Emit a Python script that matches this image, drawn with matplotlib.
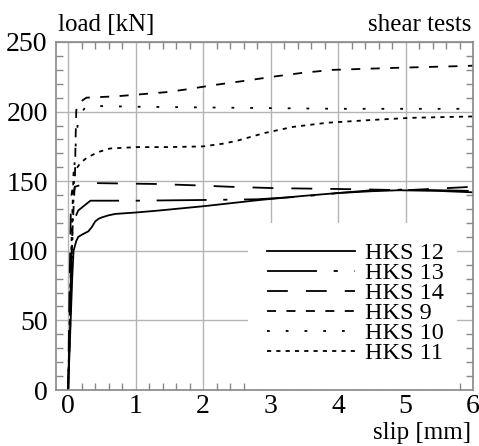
import matplotlib
matplotlib.use("Agg")
import matplotlib.pyplot as plt
from matplotlib.ticker import MultipleLocator
from matplotlib.patches import Rectangle

plt.rcParams['font.family'] = ['Liberation Serif', 'DejaVu Serif']
plt.rcParams['lines.scale_dashes'] = False

# ---- data (slip in mm, load in kN) ----
hks12_x = [0.0, 0.03, 0.06, 0.08, 0.12, 0.15, 0.22, 0.3, 0.35, 0.4, 0.45, 0.5, 0.6, 0.7, 1.0, 1.36, 2.0, 2.84, 3.5, 4.0, 4.5, 4.9, 5.5, 6.0]
hks12_y = [0, 40, 80, 100, 107, 110, 112, 114, 117, 121, 123, 124, 125.5, 126.5, 127.5, 129, 132, 136.5, 139.5, 141.5, 142.8, 143.5, 143, 142]

hks13_x = [0.0, 0.03, 0.05, 0.07, 0.15, 0.33, 1.0, 2.0, 2.8, 3.3, 3.7, 4.0, 4.5, 5.0, 5.5, 6.0]
hks13_y = [0, 60, 100, 120, 129, 136, 136, 136.5, 137, 138.5, 140, 141.5, 143.5, 144, 143.5, 143]

hks14_x = [0.0, 0.02, 0.04, 0.05, 0.06, 0.08, 0.1, 0.2, 0.3, 1.3, 1.9, 2.4, 3.07, 4.0, 4.5, 5.0, 5.6, 6.0]
hks14_y = [0, 70, 130, 140, 143.5, 141, 146, 147.5, 148.7, 148, 147, 146, 145, 144.4, 144, 143.5, 145, 146]

hks9_x = [0.0, 0.04, 0.06, 0.1, 0.11, 0.12, 0.13, 0.18, 0.27, 0.72, 1.46, 1.76, 2.15, 2.6, 3.1, 3.5, 3.93, 4.9, 5.9, 6.0]
hks9_y = [0, 60, 110, 150, 180, 200, 205, 207, 210, 211, 214, 216, 219, 222, 225.5, 228, 230, 231.5, 232.8, 233]

hks10_x = [0.0, 0.05, 0.08, 0.1, 0.15, 0.25, 0.5, 1.0, 2.0, 3.0, 4.0, 5.0, 6.0]
hks10_y = [0, 80, 140, 170, 195, 203, 204, 203.5, 203, 202.5, 202, 202, 202]

hks11_x = [0.0, 0.04, 0.08, 0.18, 0.28, 0.45, 0.62, 1.02, 1.5, 2.0, 2.3, 2.5, 2.9, 3.33, 3.84, 4.5, 5.07, 5.5, 6.0]
hks11_y = [0, 90, 156, 163, 167, 171, 173.5, 174.5, 174.5, 175, 177, 179, 184.5, 189, 192, 194, 195.5, 196, 196.5]

series = [
    ("HKS 12", hks12_x, hks12_y, '-'),
    ("HKS 13", hks13_x, hks13_y, (0, (36, 12, 3, 12))),
    ("HKS 14", hks14_x, hks14_y, (0, (15, 13))),
    ("HKS 9", hks9_x, hks9_y, (0, (6.5, 7.5))),
    ("HKS 10", hks10_x, hks10_y, (0, (2, 11.5))),
    ("HKS 11", hks11_x, hks11_y, (0, (3, 3.7))),
]

fig = plt.figure(figsize=(4.79, 4.46), dpi=100)
ax = fig.add_axes([56/479, 1 - 390/446, 417/479, 348/446])

for name, xs, ys, ls in series:
    ax.plot(xs, ys, color='black', linestyle=ls, linewidth=1.3, label=name, zorder=3)

ax.set_xlim(-0.18, 6)
ax.set_ylim(0, 250)
ax.xaxis.set_major_locator(MultipleLocator(1))
ax.xaxis.set_minor_locator(MultipleLocator(0.2))
ax.yaxis.set_major_locator(MultipleLocator(50))
ax.yaxis.set_minor_locator(MultipleLocator(10))
ax.grid(True, which='major', color='#b4b4b4', linewidth=1.0, zorder=1)
ax.set_axisbelow(True)
ax.tick_params(which='both', direction='in', top=True, right=True, color='#888888',
               labelsize=20)
ax.tick_params(axis='y', pad=6)
ax.tick_params(axis='x', pad=3)
ax.tick_params(which='major', length=0)
ax.tick_params(which='minor', length=5, width=1)
for s in ax.spines.values():
    s.set_color('#888888')
    s.set_linewidth(1.2)
    s.set_zorder(6)

# white background patch behind the legend (hides grid there)
ax.add_patch(Rectangle((0.46, 0.0), 0.502, 0.48, transform=ax.transAxes,
                       facecolor='white', edgecolor='none', zorder=2))

leg = ax.legend(loc='upper left', bbox_to_anchor=(0.506, 0.425), borderaxespad=0,
                fontsize=17.5, handlelength=3.6, handletextpad=0.42,
                labelspacing=-0.08, borderpad=0, frameon=False)
leg.set_zorder(5)

fig.text(58/479, 1 - 31/446, "load [kN]", fontsize=18, ha='left', va='baseline')
fig.text(471/479, 1 - 31/446, "shear tests", fontsize=18, ha='right', va='baseline')
fig.text(471/479, 1 - 439/446, "slip [mm]", fontsize=18, ha='right', va='baseline')

fig.savefig("out.png", dpi=100)
